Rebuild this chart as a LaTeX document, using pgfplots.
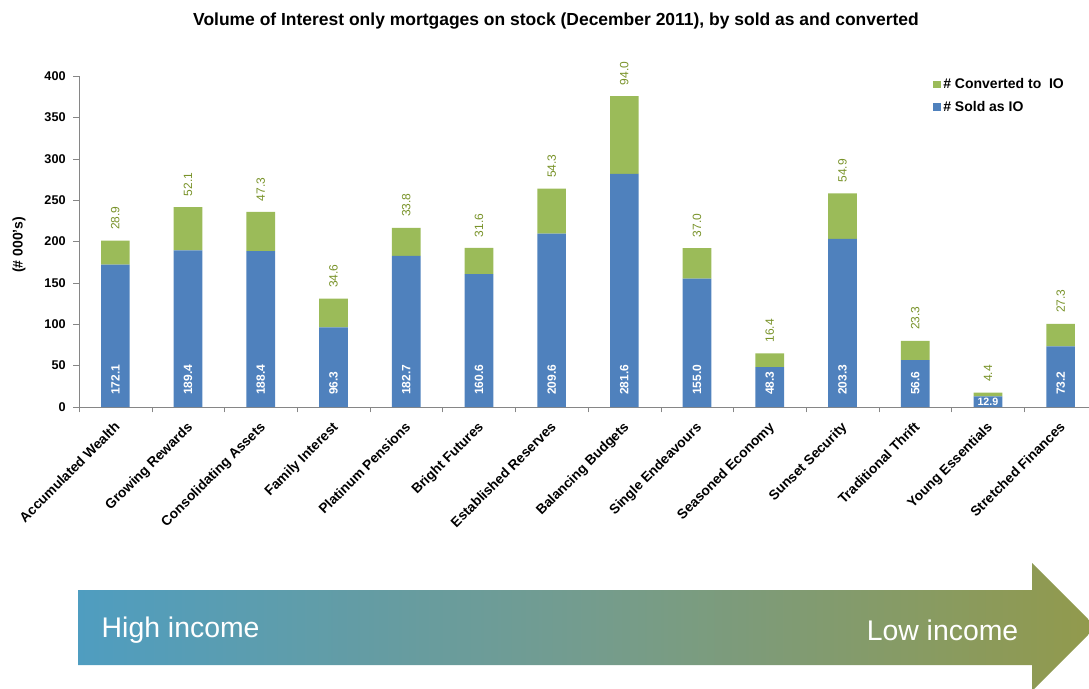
\documentclass[border=0pt]{standalone}
\usepackage{pgfplots}
\usepackage{pgfplotstable}
\pgfplotsset{compat=1.18}
\usepackage{fontspec}
\setmainfont{Liberation Sans}

\definecolor{ioblue}{RGB}{79,129,189}
\definecolor{iogreen}{RGB}{155,187,89}
\definecolor{lblgreen}{RGB}{120,146,40}
\definecolor{axgray}{RGB}{134,134,134}
\definecolor{arrL}{RGB}{79,157,192}
\definecolor{arrM}{RGB}{116,156,142}
\definecolor{arrR}{RGB}{146,154,76}

% sold as IO / converted to IO, thousands
\pgfplotstableread{
idx sold conv
0  172.1 28.9
1  189.4 52.1
2  188.4 47.3
3  96.3  34.6
4  182.7 33.8
5  160.6 31.6
6  209.6 54.3
7  281.6 94.0
8  155.0 37.0
9  48.3  16.4
10 203.3 54.9
11 56.6  23.3
12 12.9  4.4
13 73.2  27.3
}\iodata

\begin{document}
\begin{tikzpicture}[x=0.75pt,y=-0.75pt]
\useasboundingbox (0,0) rectangle (1089,689);
\clip (0,0) rectangle (1089,689);
\coordinate (O) at (79,407);

\pgfplotsset{frame/.style={
  at={(O)},anchor=south west,scale only axis,
  width=763.5pt,height=248.25pt,
  xmin=-0.5,xmax=13.5,ymin=0,ymax=400}}

\begin{axis}[frame,
  ybar stacked,bar width=21.5pt,
  axis x line*=bottom,axis y line*=left,
  axis line style={axgray},
  tick align=outside,
  xtick={0,...,13},
  xticklabels={Accumulated Wealth,Growing Rewards,Consolidating Assets,Family Interest,Platinum Pensions,Bright Futures,Established Reserves,Balancing Budgets,Single Endeavours,Seasoned Economy,Sunset Security,Traditional Thrift,Young Essentials,Stretched Finances},
  major x tick style={draw=none},
  minor xtick={-0.5,0.5,...,13.5},
  minor x tick style={axgray},
  minor tick length=4pt,
  ytick={0,50,...,400},
  y tick style={axgray},
  major tick length=4.5pt,
  /pgf/number format/assume math mode=true,
  yticklabel style={font=\bfseries\fontsize{9.5}{10}\selectfont,xshift=-2pt},
  xticklabel style={rotate=45,anchor=north east,font=\bfseries\fontsize{10.3}{11}\selectfont,inner sep=1pt,yshift=-2pt,xshift=-4pt},
  reverse legend,
  legend cell align=left,
  legend style={at={(0.835,1.01)},anchor=north west,draw=none,fill=none,
    font=\bfseries\fontsize{10.5}{11}\selectfont,row sep=4pt,
    /tikz/every even column/.append style={column sep=1pt}},
]
\addplot[fill=ioblue,draw=none,
  legend image code/.code={\fill[ioblue] (0pt,-2.8pt) rectangle (5.5pt,2.8pt);}]
  table[x=idx,y=sold]{\iodata};
\addlegendentry{\# Sold as IO}
\addplot[fill=iogreen,draw=none,
  legend image code/.code={\fill[iogreen] (0pt,-2.8pt) rectangle (5.5pt,2.8pt);}]
  table[x=idx,y=conv]{\iodata};
\addlegendentry{\# Converted to\ \ IO}
\end{axis}

% value labels: converted above the stack, sold at the foot of the blue bars
\begin{axis}[frame,hide axis]
\addplot[draw=none,point meta=explicit symbolic,nodes near coords,
  nodes near coords style={yshift=8pt,rotate=90,anchor=west,inner sep=0pt,
    text=lblgreen,font=\fontsize{9}{10}\selectfont}]
  coordinates {(0,201.0) [28.9] (1,241.5) [52.1] (2,235.7) [47.3] (3,130.9) [34.6]
    (4,216.5) [33.8] (5,192.2) [31.6] (6,263.9) [54.3] (7,375.6) [94.0] (8,192.0) [37.0]
    (9,64.7) [16.4] (10,258.2) [54.9] (11,79.9) [23.3] (12,17.3) [4.4] (13,100.5) [27.3]};
\addplot[draw=none,point meta=explicit symbolic,nodes near coords,
  nodes near coords style={yshift=9pt,rotate=90,anchor=west,inner sep=0pt,
    text=white,font=\bfseries\fontsize{9}{10}\selectfont}]
  coordinates {(0,0) [172.1] (1,0) [189.4] (2,0) [188.4] (3,0) [96.3]
    (4,0) [182.7] (5,0) [160.6] (6,0) [209.6] (7,0) [281.6] (8,0) [155.0]
    (9,0) [48.3] (10,0) [203.3] (11,0) [56.6] (13,0) [73.2]};
\addplot[draw=none,point meta=explicit symbolic,nodes near coords,
  nodes near coords style={yshift=1pt,anchor=south,inner sep=0pt,
    text=white,font=\bfseries\fontsize{8}{9}\selectfont}]
  coordinates {(12,0) [12.9]};
\end{axis}

\node[font=\bfseries\fontsize{13.1}{15}\selectfont] at (556,21)
  {Volume of Interest only mortgages on stock (December 2011), by sold as and converted};
\node[rotate=90,font=\bfseries\fontsize{10.5}{12}\selectfont] at (19,245) {(\# 000's)};

\shade[left color=arrL,right color=arrR,middle color=arrM]
  (78,590) -- (1032,590) -- (1032,563) -- (1096,627) -- (1032,691)
  -- (1032,665) -- (78,665) -- cycle;
\node[anchor=west,text=white,font=\fontsize{21.3}{23}\selectfont] at (97,630) {High income};
\node[anchor=east,text=white,font=\fontsize{21.3}{23}\selectfont] at (1023,630) {Low income};
\end{tikzpicture}
\end{document}
